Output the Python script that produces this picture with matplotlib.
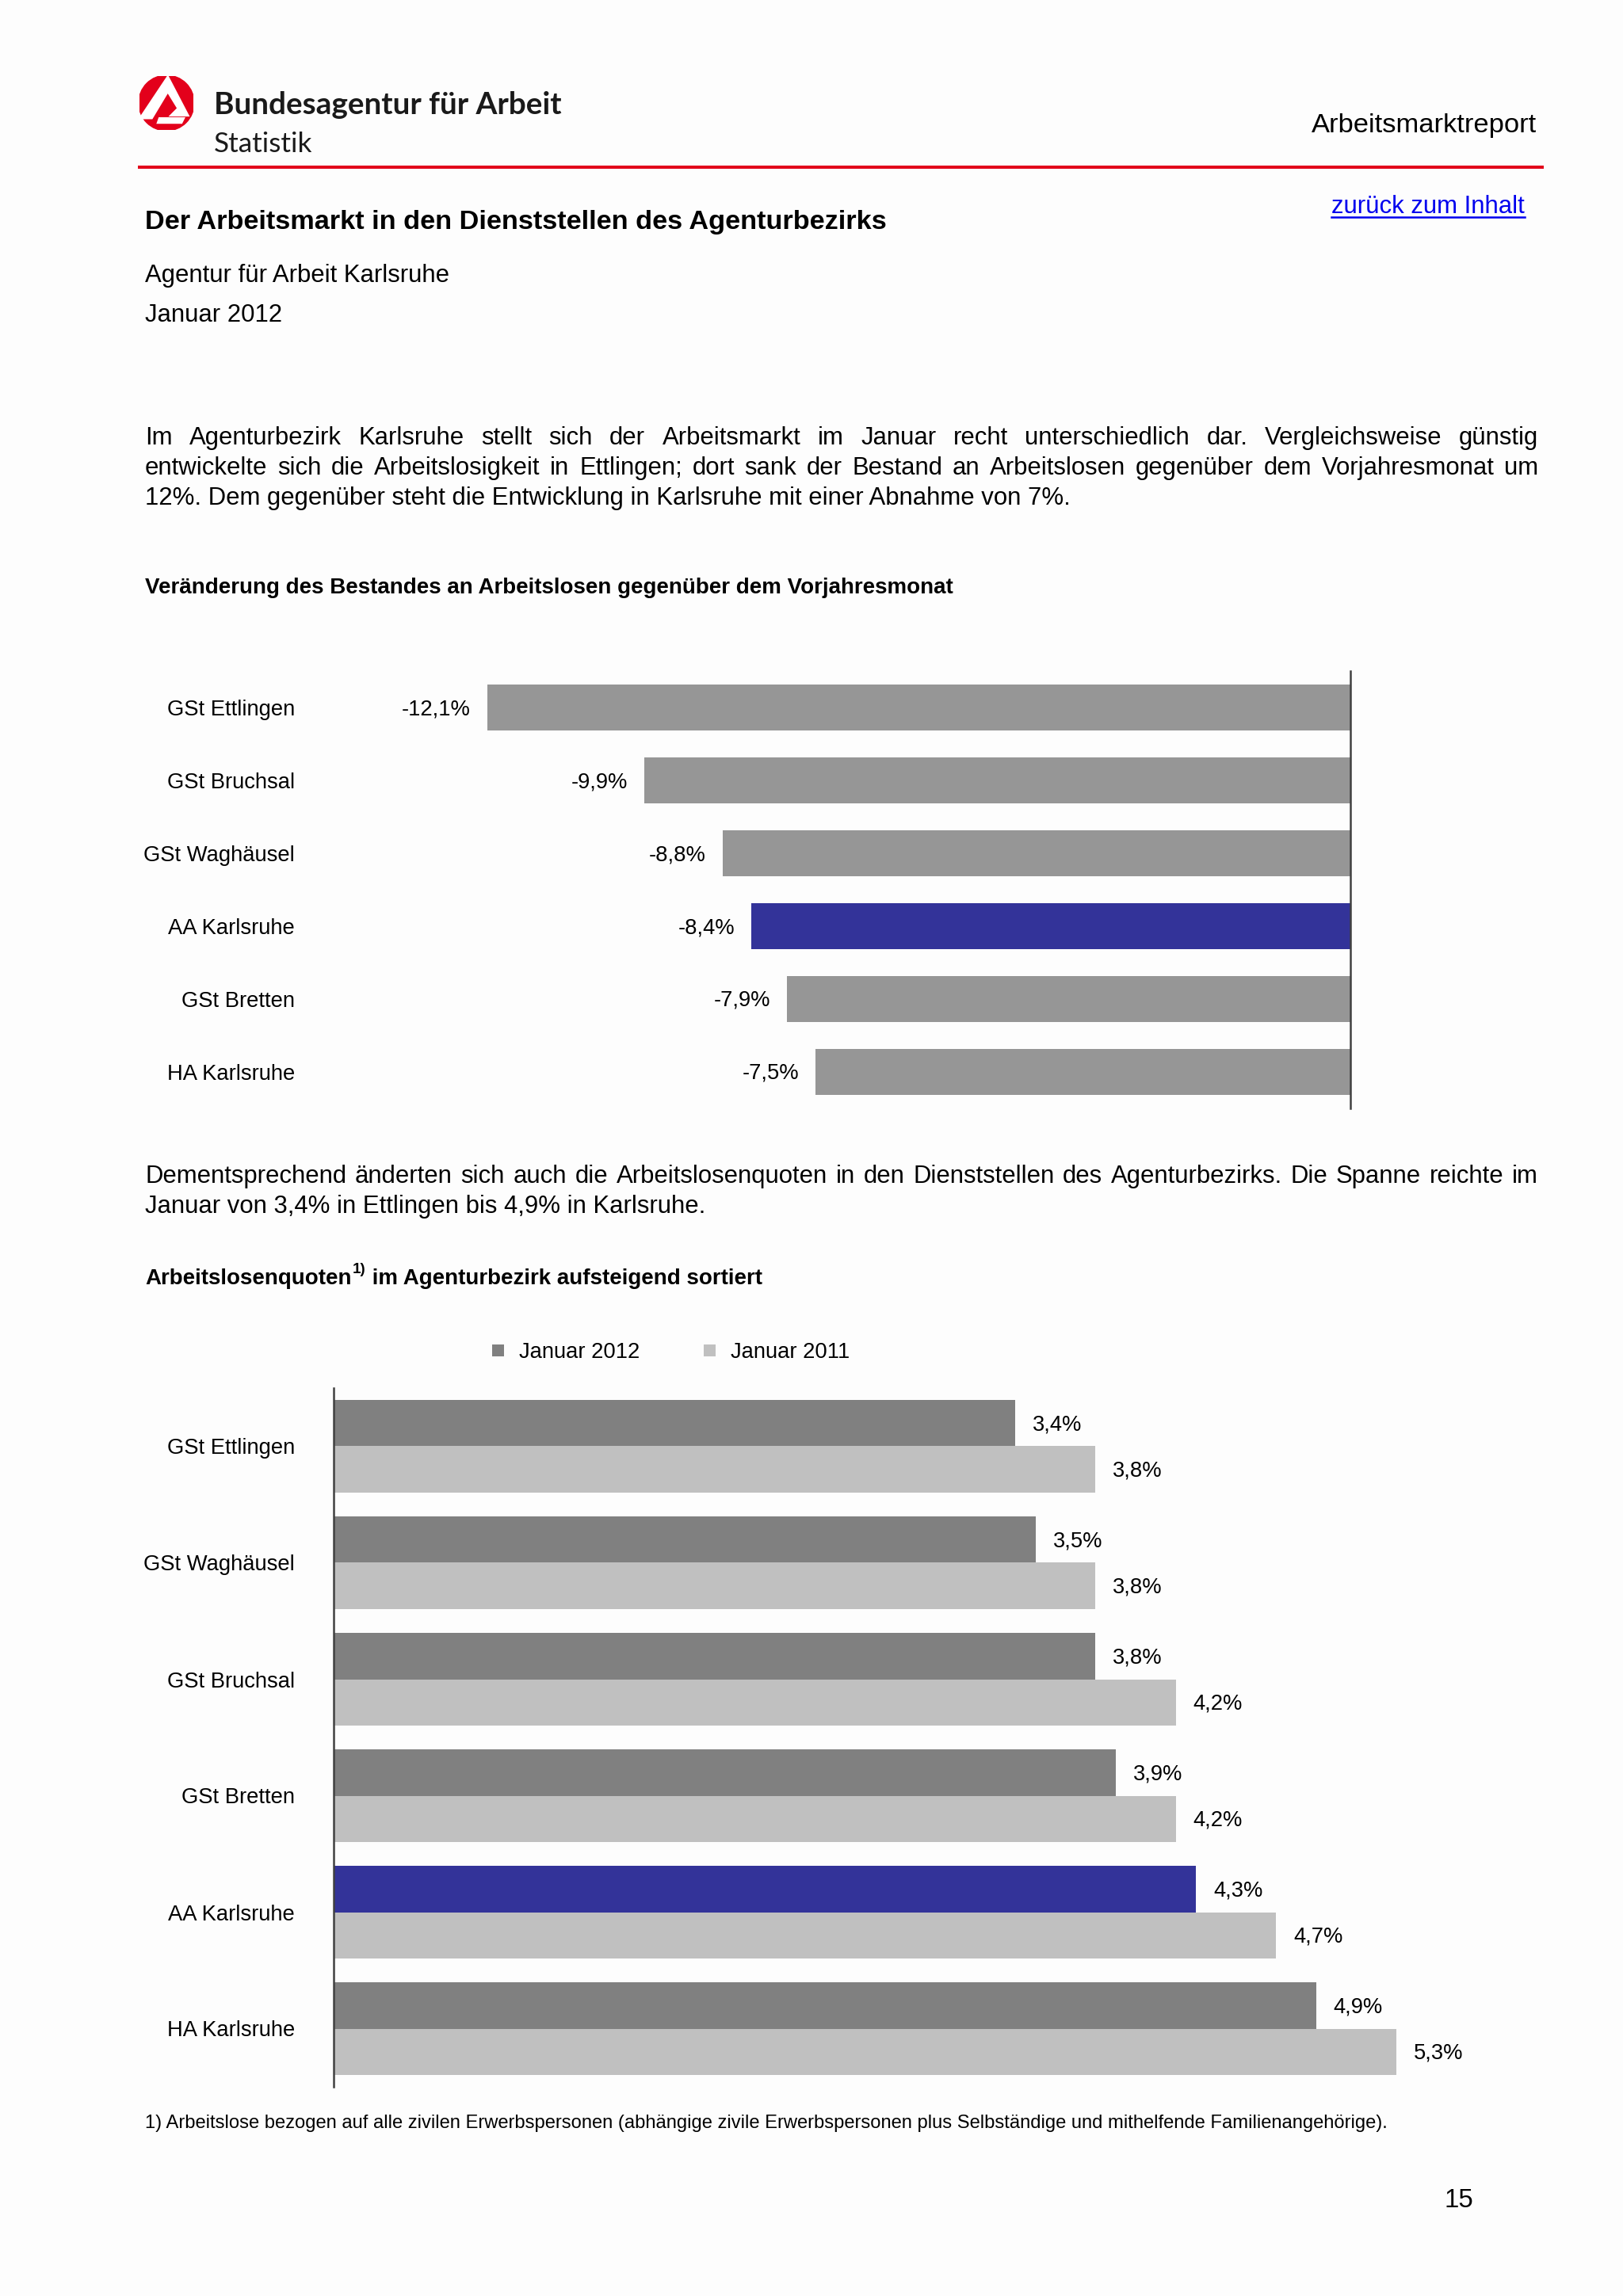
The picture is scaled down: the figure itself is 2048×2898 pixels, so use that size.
import matplotlib
matplotlib.use('Agg')
import matplotlib.pyplot as plt
import numpy as np
from matplotlib.patches import Circle, Polygon
from matplotlib.lines import Line2D

# ---------------- data ----------------
chg_categories = ['GSt Ettlingen', 'GSt Bruchsal', 'GSt Waghäusel',
                  'AA Karlsruhe', 'GSt Bretten', 'HA Karlsruhe']
chg_values = [-12.1, -9.9, -8.8, -8.4, -7.9, -7.5]

quote_categories = ['GSt Ettlingen', 'GSt Waghäusel', 'GSt Bruchsal',
                    'GSt Bretten', 'AA Karlsruhe', 'HA Karlsruhe']
quote_2012 = [3.4, 3.5, 3.8, 3.9, 4.3, 4.9]
quote_2011 = [3.8, 3.8, 4.2, 4.2, 4.7, 5.3]
series_names = ['Januar 2012', 'Januar 2011']
highlight = 'AA Karlsruhe'

para1 = ["Im Agenturbezirk Karlsruhe stellt sich der Arbeitsmarkt im Januar recht unterschiedlich dar. Vergleichsweise günstig",
         "entwickelte sich die Arbeitslosigkeit in Ettlingen; dort sank der Bestand an Arbeitslosen gegenüber dem Vorjahresmonat um",
         "12%. Dem gegenüber steht die Entwicklung in Karlsruhe mit einer Abnahme von 7%."]
para2 = ["Dementsprechend änderten sich auch die Arbeitslosenquoten in den Dienststellen des Agenturbezirks. Die Spanne reichte im",
         "Januar von 3,4% in Ettlingen bis 4,9% in Karlsruhe."]
footnote = ("1) Arbeitslose bezogen auf alle zivilen Erwerbspersonen (abhängige zivile Erwerbspersonen "
            "plus Selbständige und mithelfende Familienangehörige).")

# ---------------- page setup ----------------
W, H, DPI = 2048, 2898, 256
plt.rcParams['font.family'] = ['Liberation Sans', 'DejaVu Sans']
fig = plt.figure(figsize=(W / DPI, H / DPI), dpi=DPI)
fig.patch.set_facecolor('#fdfdfd')
renderer = fig.canvas.get_renderer()
DY = 4  # small downward shift of free text


def X(px):
    return px / W


def Y(py):
    return 1 - py / H


def PT(px):
    return px * 72.0 / DPI


def t(px, py, s, **kw):
    kw.setdefault('va', 'center')
    kw.setdefault('color', 'black')
    return fig.text(X(px), Y(py + DY), s, **kw)


def width_px(txt):
    return txt.get_window_extent(renderer).width


def justify(line, py, x0, x1, size):
    words = line.split(' ')
    texts = [t(x0, py, w, fontsize=size, ha='left') for w in words]
    widths = [width_px(tx) for tx in texts]
    gap = (x1 - x0 - sum(widths)) / (len(words) - 1)
    x = x0
    for tx, w in zip(texts, widths):
        tx.set_x(X(x))
        x += w + gap


BODY = 8.75
LABEL = 7.7
CTITLE = 7.8

# ---------------- header ----------------
logo = fig.add_axes([X(176), Y(164), 68 / W, 68 / H])
logo.set_xlim(-1, 1)
logo.set_ylim(-1, 1)
logo.axis('off')
logo.add_patch(Circle((0, 0), 1, color='#e3001b'))
logo.add_patch(Polygon([(-0.95, -0.55), (0.05, 0.95), (0.78, -0.45), (0.2, -0.45),
                        (0.45, -0.2), (0.05, 0.45), (-0.55, -0.55)], closed=True,
                       color='white'))
logo.add_patch(Polygon([(-0.3, -0.72), (0.55, -0.72), (0.62, -0.58), (-0.25, -0.58)],
                       closed=True, color='white'))

t(270, 129, 'Bundesagentur für Arbeit', fontsize=10.9, fontweight='bold',
  family=['Lato', 'DejaVu Sans'], color='#1a1a1a')
t(270, 178, 'Statistik', fontsize=9.9, family=['Lato', 'DejaVu Sans'], color='#1a1a1a')
t(1939, 155, 'Arbeitsmarktreport', fontsize=9.7, ha='right')
fig.add_artist(Line2D([X(176), X(1946)], [Y(211), Y(211)], color='#e2001a', lw=PT(4)))

link = t(1924, 257, 'zurück zum Inhalt', fontsize=BODY, ha='right', color='#0000ee')
lw_ = width_px(link)
fig.add_artist(Line2D([X(1924 - lw_), X(1924)], [Y(274), Y(274)], color='#0000ee', lw=PT(2.5)))

t(183, 277, 'Der Arbeitsmarkt in den Dienststellen des Agenturbezirks', fontsize=9.65,
  fontweight='bold', ha='left')
t(183, 344, 'Agentur für Arbeit Karlsruhe', fontsize=BODY, ha='left')
t(183, 394, 'Januar 2012', fontsize=BODY, ha='left')

# paragraph 1
justify(para1[0], 549, 183, 1941, BODY)
justify(para1[1], 587, 183, 1941, BODY)
t(183, 625, para1[2], fontsize=BODY, ha='left')

# ---------------- chart 1 ----------------
t(183, 738, 'Veränderung des Bestandes an Arbeitslosen gegenüber dem Vorjahresmonat',
  fontsize=CTITLE, fontweight='bold', ha='left')

zero_px, scale1, left1 = 1704, 90.0, 400
ax1 = fig.add_axes([X(left1), Y(1399), X(zero_px) - X(left1), (1399 - 847) / H])
ax1.set_facecolor('none')
n1 = len(chg_categories)
y1 = np.arange(n1)
colors1 = ['#333399' if c == highlight else '#969696' for c in chg_categories]
ax1.barh(y1, chg_values, height=0.62, color=colors1)
ax1.set_xlim(-(zero_px - left1) / scale1, 0)
ax1.set_ylim(n1 - 0.5, -0.5)
for s in ['left', 'top', 'bottom']:
    ax1.spines[s].set_visible(False)
ax1.spines['right'].set_color('#404040')
ax1.spines['right'].set_linewidth(PT(2.5))
ax1.set_xticks([])
ax1.set_yticks(y1, chg_categories)
ax1.tick_params(axis='y', length=0, pad=PT(left1 - 372), labelsize=LABEL)
for i, v in enumerate(chg_values):
    ax1.annotate(f'{v:.1f}%'.replace('.', ','), (v, i), xytext=(-PT(21), -PT(2)),
                 textcoords='offset points', ha='right', va='center', fontsize=LABEL)

# paragraph 2
justify(para2[0], 1481, 183, 1941, BODY)
t(183, 1519, para2[1], fontsize=BODY, ha='left')

# ---------------- chart 2 ----------------
tt = t(183, 1610, 'Arbeitslosenquoten', fontsize=CTITLE, fontweight='bold', ha='left')
w1 = width_px(tt)
sup = t(183 + w1 + 1, 1598, '1)', fontsize=5.3, fontweight='bold', ha='left')
w2 = width_px(sup)
t(183 + w1 + w2 + 2, 1610, ' im Agenturbezirk aufsteigend sortiert', fontsize=CTITLE,
  fontweight='bold', ha='left')

left2, scale2, right2 = 421, 253, 1960
ax2 = fig.add_axes([X(left2), Y(2634), X(right2) - X(left2), (2634 - 1752) / H])
ax2.set_facecolor('none')
n2 = len(quote_categories)
y2 = np.arange(n2)
c2012 = ['#333399' if c == highlight else '#808080' for c in quote_categories]
ax2.barh(y2 - 0.2, quote_2012, height=0.4, color=c2012)
ax2.barh(y2 + 0.2, quote_2011, height=0.4, color='#c0c0c0')
ax2.set_xlim(0, (right2 - left2) / scale2)
ax2.set_ylim(n2 - 0.5, -0.5)
for s in ['right', 'top', 'bottom']:
    ax2.spines[s].set_visible(False)
ax2.spines['left'].set_color('#404040')
ax2.spines['left'].set_linewidth(PT(2.5))
ax2.set_xticks([])
ax2.set_yticks(y2, quote_categories)
ax2.tick_params(axis='y', length=0, pad=PT(left2 - 372), labelsize=LABEL)
for i, (a, b) in enumerate(zip(quote_2012, quote_2011)):
    ax2.annotate(f'{a:.1f}%'.replace('.', ','), (a, i - 0.2), xytext=(PT(22), -PT(2)),
                 textcoords='offset points', ha='left', va='center', fontsize=LABEL)
    ax2.annotate(f'{b:.1f}%'.replace('.', ','), (b, i + 0.2), xytext=(PT(22), -PT(2)),
                 textcoords='offset points', ha='left', va='center', fontsize=LABEL)

handles = [Line2D([], [], ls='', marker='s', markersize=PT(15), color='#808080',
                  markeredgewidth=0),
           Line2D([], [], ls='', marker='s', markersize=PT(15), color='#c0c0c0',
                  markeredgewidth=0)]
fig.legend(handles, series_names, loc='center left',
           bbox_to_anchor=(X(614), Y(1707)), frameon=False, ncol=2,
           fontsize=LABEL, handlelength=1.0, handletextpad=0.5,
           columnspacing=2.7, borderpad=0, borderaxespad=0)

# ---------------- footer ----------------
t(183, 2676, footnote, fontsize=6.7, ha='left')
t(1841, 2774, '15', fontsize=9.3, ha='center')

fig.savefig('out.png', dpi=DPI, facecolor=fig.get_facecolor())
